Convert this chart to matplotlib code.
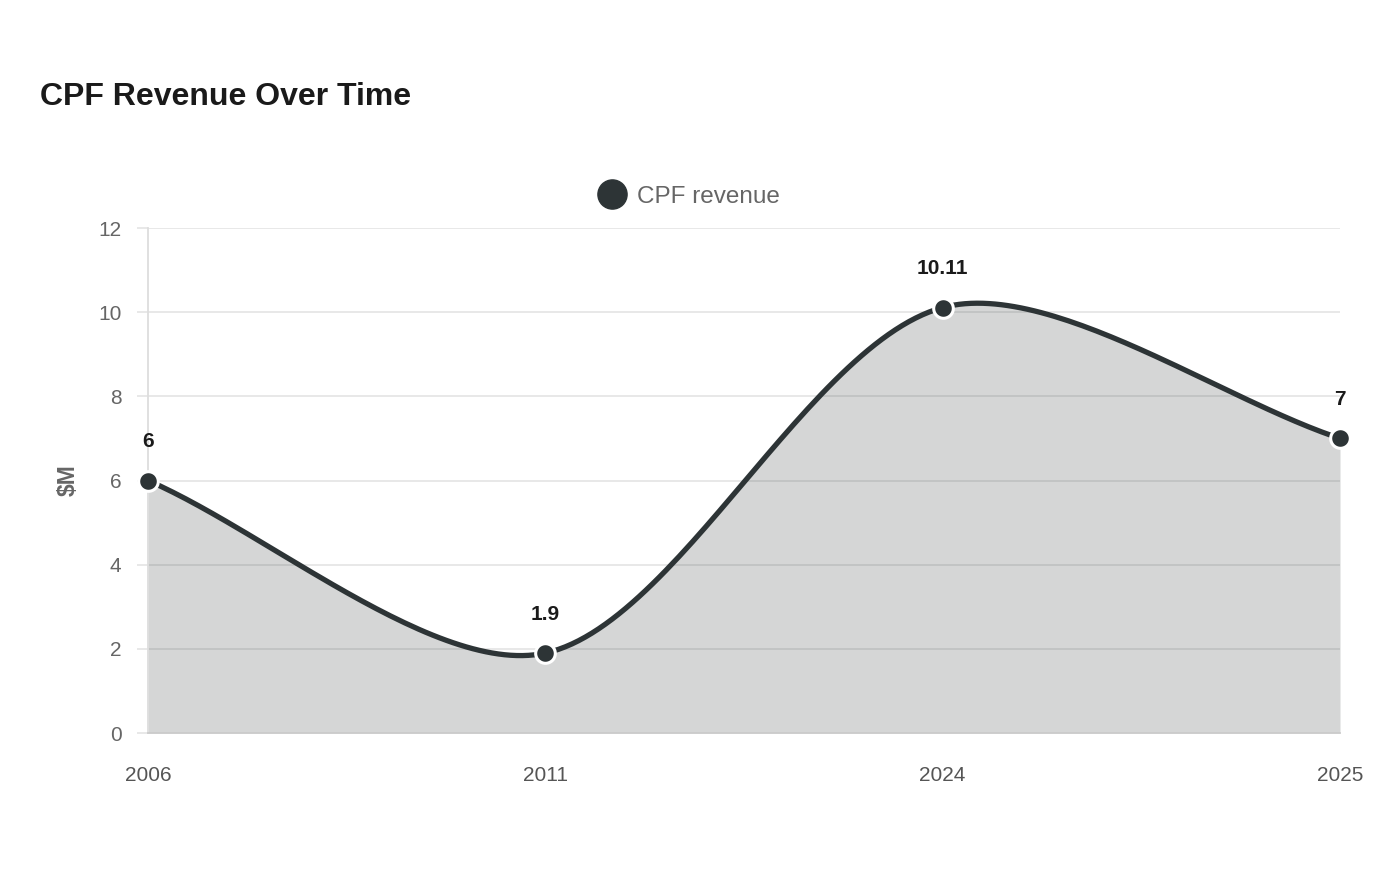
import numpy as np
import matplotlib.pyplot as plt
from matplotlib.lines import Line2D

plt.rcParams["font.family"] = ["Liberation Sans", "DejaVu Sans"]

# Data
years = ["2006", "2011", "2024", "2025"]
revenue = [6, 1.9, 10.11, 7]
value_labels = ["6", "1.9", "10.11", "7"]

line_color = "#2d3436"
grid_color = "#e6e6e6"
text_grey = "#666666"

fig = plt.figure(figsize=(14, 8.8), dpi=100)
ax = fig.add_axes([148 / 1400, 1 - 733 / 880, (1340 - 148) / 1400, (733 - 228) / 880])

x = np.arange(len(years))
ax.set_xlim(0, len(years) - 1)
ax.set_ylim(0, 12)


def spline_path(xs, ys, tension=0.3, n=60):
    # Chart.js-style cubic bezier through points, computed in pixel space
    pts = ax.transData.transform(np.column_stack([xs, ys]))
    m = len(pts)
    cps = []
    for i in range(m):
        prev = pts[max(i - 1, 0)]
        cur = pts[i]
        nxt = pts[min(i + 1, m - 1)]
        d01 = np.hypot(*(cur - prev))
        d12 = np.hypot(*(nxt - cur))
        tot = d01 + d12
        s01 = d01 / tot if tot else 0
        s12 = d12 / tot if tot else 0
        fa, fb = tension * s01, tension * s12
        cps.append((cur - fa * (nxt - prev), cur + fb * (nxt - prev)))
    out = []
    t = np.linspace(0, 1, n)[:, None]
    for i in range(m - 1):
        p0, p3 = pts[i], pts[i + 1]
        p1, p2 = cps[i][1], cps[i + 1][0]
        seg = (1 - t) ** 3 * p0 + 3 * (1 - t) ** 2 * t * p1 + 3 * (1 - t) * t ** 2 * p2 + t ** 3 * p3
        out.append(seg if i == 0 else seg[1:])
    out = np.vstack(out)
    data = ax.transData.inverted().transform(out)
    return data[:, 0], data[:, 1]


cx, cy = spline_path(x, revenue)

ax.fill_between(cx, 0, cy, color=line_color, alpha=0.2, linewidth=0, zorder=2)
ax.plot(cx, cy, color=line_color, linewidth=3.8, zorder=3, solid_capstyle="round")
ax.scatter(x, revenue, s=200, color=line_color, edgecolor="white", linewidth=2.2, zorder=4, clip_on=False)

for xi, v, lab in zip(x, revenue, value_labels):
    ax.annotate(lab, (xi, v), xytext=(0, 28), textcoords="offset points",
                ha="center", va="center", fontsize=15, fontweight="bold", color="#1a1a1a")

# Axes styling
ax.set_yticks(range(0, 13, 2))
ax.set_xticks(x)
ax.set_xticklabels(years)
ax.grid(axis="y", color=grid_color, linewidth=1.3, zorder=1)
ax.set_axisbelow(True)
for side in ["top", "right"]:
    ax.spines[side].set_visible(False)
ax.spines["left"].set_color("#dddddd")
ax.spines["bottom"].set_color("#cccccc")
ax.spines["left"].set_linewidth(1.3)
ax.spines["bottom"].set_linewidth(1.3)
ax.tick_params(axis="y", length=8, color=grid_color, width=1.3, labelsize=15, labelcolor=text_grey, pad=11)
ax.tick_params(axis="x", length=0, labelsize=15, labelcolor="#555555", pad=24)
ax.set_ylabel("$M", fontsize=16.5, fontweight="bold", color=text_grey, labelpad=13)

# Legend
handle = Line2D([], [], marker="o", linestyle="none", markersize=21, color=line_color)
leg = fig.legend([handle], ["CPF revenue"], loc="center", bbox_to_anchor=(684 / 1400, 1 - 197 / 880),
                 frameon=False, fontsize=17.5, handletextpad=0.05, borderpad=0)
for t in leg.get_texts():
    t.set_color(text_grey)

fig.text(40 / 1400, 1 - 97 / 880, "CPF Revenue Over Time", fontsize=23, fontweight="bold",
         color="#1a1a1a", ha="left", va="center")

fig.savefig("out.png", dpi=100)
